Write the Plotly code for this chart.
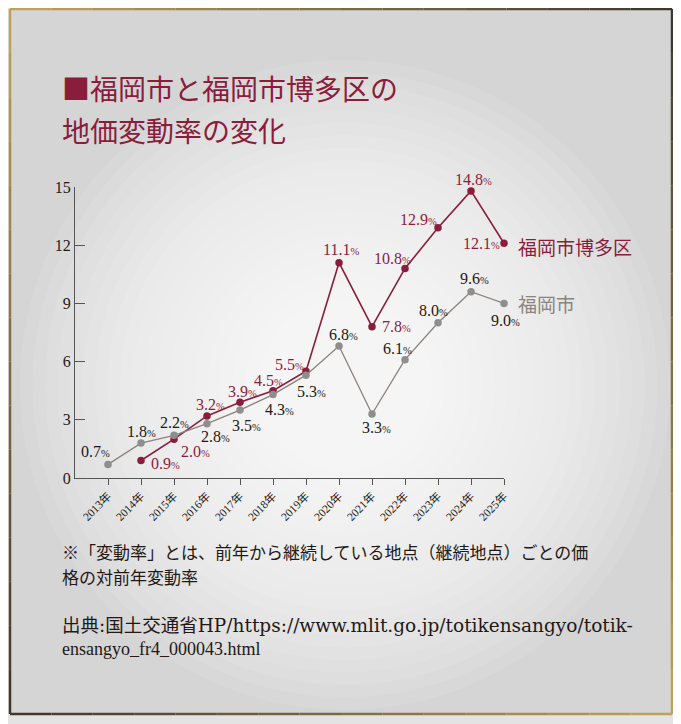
import plotly.graph_objects as go

# data
years = list(range(2013, 2026))
year_labels = [f"{y}年" for y in years]
fukuoka_city = [0.7, 1.8, 2.2, 2.8, 3.5, 4.3, 5.3, 6.8, 3.3, 6.1, 8.0, 9.6, 9.0]
hakata_years = list(range(2014, 2026))
hakata_ward = [0.9, 2.0, 3.2, 3.9, 4.5, 5.5, 11.1, 7.8, 10.8, 12.9, 14.8, 12.1]
y_ticks = [0, 3, 6, 9, 12, 15]

title_lines = ["■福岡市と福岡市博多区の", "地価変動率の変化"]
note_lines = [
    "※「変動率」とは、前年から継続している地点（継続地点）ごとの価",
    "格の対前年変動率",
]
source_lines = [
    "出典:国土交通省HP/https://www.mlit.go.jp/totikensangyo/totik-",
    "ensangyo_fr4_000043.html",
]

# the page body has an 8px margin, so the figure is drawn 8px smaller
OFF = 8
W, H = 681 - OFF, 724 - OFF
RED = "#8a1d3c"
GREY_LINE = "#8c827c"
GREY_DOT = "#8e8e8e"
SERIF = "Liberation Serif, Noto Sans CJK JP"
JP = "Noto Sans CJK JP"

# label offsets in pixels (x, y up) for each point
city_off = [(-13, 13), (0, 12), (0, 13), (8, -13), (6, -15), (6, -15), (5, -16),
            (4, 12), (4, -14), (-8, 11), (-5, 12), (3, 13), (1, -17)]
hakata_off = [(24, -3), (21, -12), (3, 11), (2, 11), (-5, 10), (-17, 7),
              (2, 13), (24, 0), (-13, 10), (-20, 8), (2, 11), (-23, 0)]


def px(x):
    return (x - OFF) / W


def py(y):
    return 1 - (y - OFF) / H


def pct(v):
    return f"{v:.1f}<span style='font-size:10.5px'>%</span>"


fig = go.Figure()

fig.add_trace(go.Scatter(
    x=hakata_years, y=hakata_ward, mode="lines+markers",
    line=dict(color=RED, width=1.6), marker=dict(color=RED, size=7.5),
    cliponaxis=False, hoverinfo="skip"))
fig.add_trace(go.Scatter(
    x=years, y=fukuoka_city, mode="lines+markers",
    line=dict(color=GREY_LINE, width=1.3), marker=dict(color=GREY_DOT, size=7.5),
    cliponaxis=False, hoverinfo="skip"))

ann = []
for x, v, (dx, dy) in zip(years, fukuoka_city, city_off):
    ann.append(dict(x=x, y=v, text=pct(v), showarrow=False, xshift=dx, yshift=dy,
                    font=dict(family=SERIF, size=16, color="#231815")))
for x, v, (dx, dy) in zip(hakata_years, hakata_ward, hakata_off):
    ann.append(dict(x=x, y=v, text=pct(v), showarrow=False, xshift=dx, yshift=dy,
                    font=dict(family=SERIF, size=16, color=RED)))

# series names next to the last points
ann.append(dict(x=hakata_years[-1], y=hakata_ward[-1], text="福岡市博多区", showarrow=False,
                xanchor="left", xshift=12, yshift=-3,
                font=dict(family=JP, size=19, color=RED)))
ann.append(dict(x=years[-1], y=fukuoka_city[-1], text="福岡市", showarrow=False,
                xanchor="left", xshift=12, yshift=0,
                font=dict(family=JP, size=19, color="#8a8480")))

for i, t in enumerate(title_lines):
    ann.append(dict(xref="paper", yref="paper", x=px(60), y=py(88 + i * 42), text=t,
                    showarrow=False, xanchor="left", yanchor="middle",
                    font=dict(family=JP, size=28, color=RED)))
for i, t in enumerate(note_lines):
    ann.append(dict(xref="paper", yref="paper", x=px(60), y=py(553 + i * 25), text=t,
                    showarrow=False, xanchor="left", yanchor="middle",
                    font=dict(family=SERIF, size=17, color="#231815")))
src_fonts = [dict(family="DejaVu Serif, Noto Sans CJK JP", size=18.5, color="#231815"),
             dict(family=SERIF, size=18, color="#231815")]
for i, t in enumerate(source_lines):
    ann.append(dict(xref="paper", yref="paper", x=px(60), y=py(625 + i * 24), text=t,
                    showarrow=False, xanchor="left", yanchor="middle",
                    font=src_fonts[i]))

# background: frame fill, soft radial glow, two-tone border
shapes = [dict(type="rect", xref="paper", yref="paper", x0=px(10), x1=px(672),
               y0=py(714), y1=py(9), fillcolor="#d5d5d5", line_width=0, layer="below")]
cx, cy = 345, 385
n = 26
for k in range(n):
    r = 325 * (1 - k / n)
    shapes.append(dict(type="circle", xref="paper", yref="paper",
                       x0=px(cx - r), x1=px(cx + r), y0=py(cy + r), y1=py(cy - r),
                       fillcolor="rgba(255,255,255,0.085)", line_width=0, layer="below"))


def mix(c1, c2, t):
    return "rgb(%d,%d,%d)" % tuple(round(a + (b - a) * t) for a, b in zip(c1, c2))


gold = (196, 165, 90)
dark = (60, 52, 46)
segs = 16
L, T, R, B = 10, 9, 672, 714
for s in range(segs):
    t0, t1 = s / segs, (s + 1) / segs
    tm = (t0 + t1) / 2
    # top: gold -> dark
    shapes.append(dict(type="line", xref="paper", yref="paper",
                       x0=px(L + (R - L) * t0), x1=px(L + (R - L) * t1), y0=py(T), y1=py(T),
                       line=dict(color=mix(gold, dark, tm), width=2.5), layer="below"))
    # bottom: dark -> gold
    shapes.append(dict(type="line", xref="paper", yref="paper",
                       x0=px(L + (R - L) * t0), x1=px(L + (R - L) * t1), y0=py(B), y1=py(B),
                       line=dict(color=mix(dark, gold, tm), width=2.5), layer="below"))
    # left: gold -> dark downward
    shapes.append(dict(type="line", xref="paper", yref="paper",
                       x0=px(L), x1=px(L), y0=py(T + (B - T) * t0), y1=py(T + (B - T) * t1),
                       line=dict(color=mix(gold, dark, tm), width=2.5), layer="below"))
    # right: dark -> gold downward
    shapes.append(dict(type="line", xref="paper", yref="paper",
                       x0=px(R), x1=px(R), y0=py(T + (B - T) * t0), y1=py(T + (B - T) * t1),
                       line=dict(color=mix(dark, gold, tm), width=2.5), layer="below"))

fig.update_layout(
    width=W, height=H,
    margin=dict(l=0, r=0, t=0, b=0, pad=0, autoexpand=False),
    paper_bgcolor="#e3e3e3",
    plot_bgcolor="rgba(0,0,0,0)",
    showlegend=False,
    annotations=ann,
    shapes=shapes,
    xaxis=dict(domain=[px(75), px(504)], range=[2012, 2025], automargin=False,
               tickvals=years, ticktext=year_labels, tickangle=-45,
               ticks="outside", ticklen=6, tickcolor="#555",
               showline=True, linecolor="#555", linewidth=1,
               showgrid=False, zeroline=False,
               tickfont=dict(family=SERIF, size=11.5, color="#231815")),
    yaxis=dict(domain=[py(478), py(187)], range=[0, 15], automargin=False,
               tickvals=y_ticks, ticks="inside", ticklen=10, tickcolor="#555",
               showline=True, linecolor="#555", linewidth=1,
               showgrid=False, zeroline=False,
               tickfont=dict(family=SERIF, size=16, color="#231815")),
)

fig.write_html("out.html")
